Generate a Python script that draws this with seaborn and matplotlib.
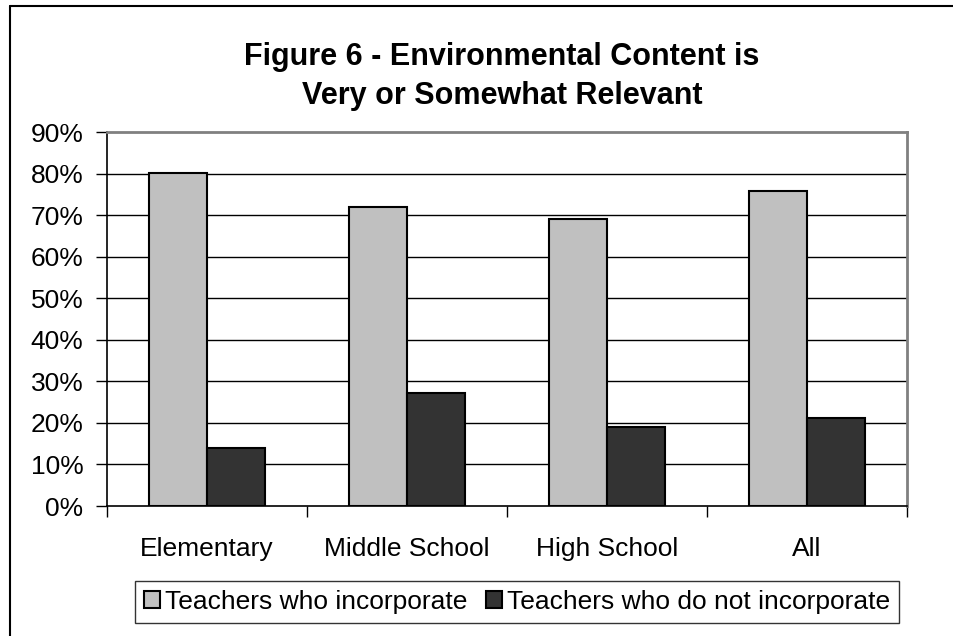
import matplotlib
matplotlib.use("Agg")
import matplotlib.pyplot as plt
import seaborn as sns
import pandas as pd
from matplotlib.patches import Patch
from matplotlib.lines import Line2D

categories = ["Elementary", "Middle School", "High School", "All"]
series_names = ["Teachers who incorporate", "Teachers who do not incorporate"]
incorporate = [80.2, 71.9, 69.1, 75.8]
not_incorporate = [13.9, 27.3, 19.0, 21.1]
y_ticks = [0, 10, 20, 30, 40, 50, 60, 70, 80, 90]
y_tick_labels = ["0%", "10%", "20%", "30%", "40%", "50%", "60%", "70%", "80%", "90%"]
title_lines = ["Figure 6 - Environmental Content is", "Very or Somewhat Relevant"]

colors = ["#C0C0C0", "#333333"]

df = pd.DataFrame({
    "category": categories * 2,
    "series": [series_names[0]] * 4 + [series_names[1]] * 4,
    "value": incorporate + not_incorporate,
})

sns.set_theme(style="white")
plt.rcParams["font.family"] = ["Liberation Sans", "DejaVu Sans"]
plt.rcParams["text.color"] = "black"
plt.rcParams["xtick.color"] = "black"
plt.rcParams["ytick.color"] = "black"
plt.rcParams["axes.labelcolor"] = "black"

W, H = 954, 636
fig = plt.figure(figsize=(W / 100, H / 100), dpi=100)
ax = fig.add_axes([107 / W, 1 - 506 / H, (907 - 107) / W, (506 - 132) / H])

sns.barplot(data=df, x="category", y="value", hue="series", order=categories,
            hue_order=series_names, palette=colors, width=0.58, gap=0,
            edgecolor="black", linewidth=1.5, saturation=1, ax=ax, legend=False,
            zorder=3)

ax.set_ylim(0, 90)
ax.set_xlim(-0.5, 3.5)
ax.set_yticks(y_ticks)
ax.set_yticklabels(y_tick_labels, fontsize=19, color="black")
ax.set_xticks(range(len(categories)))
ax.set_xticklabels(categories, fontsize=19, color="black")
ax.tick_params(axis="x", which="major", length=0, pad=22)
ax.set_xticks([-0.5, 0.5, 1.5, 2.5, 3.5], minor=True)
ax.tick_params(axis="x", which="minor", length=8, width=1, color="black", direction="out", bottom=True)
ax.tick_params(axis="y", which="major", length=8, width=1, color="black", direction="out", left=True, pad=9)
ax.set_xlabel("")
ax.set_ylabel("")
for t in y_ticks[1:-1]:
    ax.axhline(t, color="black", linewidth=1, zorder=1)

for side in ["left", "bottom"]:
    ax.spines[side].set_color("black")
    ax.spines[side].set_linewidth(1.2)
for side in ["top", "right"]:
    ax.spines[side].set_color("#808080")
    ax.spines[side].set_linewidth(2)

# titles
fig.text(502 / W, 1 - 57 / H, title_lines[0], ha="center", va="center",
         fontsize=22, fontweight="bold", color="black")
fig.text(502 / W, 1 - 96 / H, title_lines[1], ha="center", va="center",
         fontsize=22, fontweight="bold", color="black")

# chart border (cropped at right and bottom)
fig.add_artist(Line2D([10 / W, 10 / W], [0, 1 - 6 / H], color="black", linewidth=1.5,
                      transform=fig.transFigure))
fig.add_artist(Line2D([10 / W, 1], [1 - 6 / H, 1 - 6 / H], color="black", linewidth=1.5,
                      transform=fig.transFigure))

handles = [Patch(facecolor=c, edgecolor="black", linewidth=1.5) for c in colors]
leg = fig.legend(handles, series_names, loc="center", bbox_to_anchor=(517 / W, 1 - 602 / H),
                 ncol=2, fontsize=19, frameon=True, fancybox=False, edgecolor="black",
                 handlelength=0.6, handleheight=0.6, handletextpad=0.2, columnspacing=0.7,
                 borderpad=0.35, borderaxespad=0)
leg.get_frame().set_linewidth(1)
for t in leg.get_texts():
    t.set_color("black")

fig.savefig("out.png", dpi=100)
